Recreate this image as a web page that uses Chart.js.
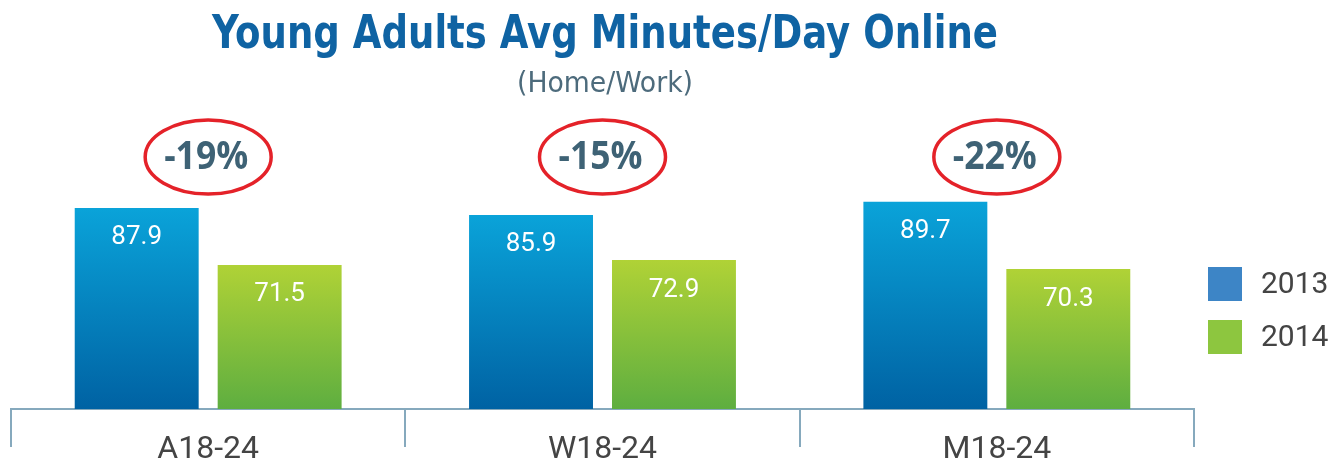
<!DOCTYPE html>
<html>
<head>
<meta charset="utf-8">
<script src="https://cdn.jsdelivr.net/npm/chart.js@4"></script>
<style>
  html, body { margin: 0; padding: 0; background: #fff; }
</style>
</head>
<body>
<canvas id="minutesChart" width="1336" height="461"></canvas>
<script>
// --- DATA ---
const categories = ["A18-24", "W18-24", "M18-24"];
const seriesNames = ["2013", "2014"];
const minutes2013 = [87.9, 85.9, 89.7];
const minutes2014 = [71.5, 72.9, 70.3];
const changeLabels = ["-19%", "-15%", "-22%"];

const chartTitle = "Young Adults Avg Minutes/Day Online";
const chartSubtitle = "(Home/Work)";

// --- STYLE ---
const legendColors = ["#3d85c6", "#8dc63f"];
const axisColor = "#86a9bd";
const narrowFont = "'Liberation Sans Narrow', 'DejaVu Sans Condensed', sans-serif";

function barGradient(top, bottom) {
    return function (context) {
        const chart = context.chart;
        const y = chart.scales.y;
        if (!chart.chartArea || !y || context.raw == null) return bottom;
        const yTop = y.getPixelForValue(context.raw);
        const yBottom = chart.chartArea.bottom;
        if (!isFinite(yTop) || !isFinite(yBottom)) return bottom;
        const g = chart.ctx.createLinearGradient(0, yTop, 0, yBottom);
        g.addColorStop(0, top);
        g.addColorStop(1, bottom);
        return g;
    };
}

// draw text squeezed/stretched to a target width
function fitText(ctx, text, x, y, targetWidth) {
    const w = ctx.measureText(text).width;
    const sx = targetWidth / w;
    ctx.save();
    ctx.translate(x, y);
    ctx.scale(sx, 1);
    ctx.fillText(text, 0, 0);
    ctx.restore();
}

// --- DECORATIONS (title, labels, ellipses, legend) ---
const decorations = {
    id: "decorations",
    afterDatasetsDraw(chart) {
        const ctx = chart.ctx;
        const bars0 = chart.getDatasetMeta(0).data;
        const bars1 = chart.getDatasetMeta(1).data;

        // values inside bars
        ctx.save();
        ctx.fillStyle = "#ffffff";
        ctx.font = "26px Roboto, 'Open Sans', sans-serif";
        ctx.textAlign = "center";
        ctx.textBaseline = "middle";
        [bars0, bars1].forEach((bars, di) => {
            const values = chart.data.datasets[di].data;
            bars.forEach((bar, i) => {
                ctx.fillText(values[i].toFixed(1), bar.x, bar.y + 30);
            });
        });
        ctx.restore();

        // change ellipses
        ctx.save();
        bars0.forEach((bar, i) => {
            const cx = (bar.x + bars1[i].x) / 2;
            const cy = 157;
            ctx.beginPath();
            ctx.ellipse(cx, cy, 63, 37, 0, 0, Math.PI * 2);
            ctx.strokeStyle = "#e42229";
            ctx.lineWidth = 3.5;
            ctx.stroke();

            ctx.fillStyle = "#3e6275";
            ctx.font = "bold 40px 'Open Sans', sans-serif";
            ctx.textAlign = "center";
            ctx.textBaseline = "middle";
            fitText(ctx, changeLabels[i], cx - 2, cy + 1, 84);
        });
        ctx.restore();
    },
    afterDraw(chart) {
        const ctx = chart.ctx;
        ctx.save();
        ctx.textAlign = "center";
        ctx.textBaseline = "alphabetic";

        ctx.fillStyle = "#0f63a3";
        ctx.font = "bold 46px " + narrowFont;
        fitText(ctx, chartTitle, 605, 48, 786);

        ctx.fillStyle = "#4d6b7c";
        ctx.font = "28px " + narrowFont;
        fitText(ctx, chartSubtitle, 605, 92, 176);

        // legend
        ctx.textAlign = "left";
        ctx.textBaseline = "middle";
        ctx.font = "30px Roboto, sans-serif";
        seriesNames.forEach((name, i) => {
            const y = 267 + i * 53;
            ctx.fillStyle = legendColors[i];
            ctx.fillRect(1208, y, 34, 34);
            ctx.fillStyle = "#444444";
            ctx.fillText(name, 1261, y + 18);
        });
        ctx.restore();
    }
};

// --- CHART ---
new Chart(document.getElementById("minutesChart"), {
    type: "bar",
    data: {
        labels: categories,
        datasets: [
            {
                label: seriesNames[0],
                data: minutes2013,
                backgroundColor: barGradient("#0aa3d9", "#0062a3"),
                categoryPercentage: 0.725,
                barPercentage: 0.867
            },
            {
                label: seriesNames[1],
                data: minutes2014,
                backgroundColor: barGradient("#b0d236", "#5eae40"),
                categoryPercentage: 0.725,
                barPercentage: 0.867
            }
        ]
    },
    options: {
        responsive: false,
        animation: false,
        layout: {
            padding: { left: 11, right: 142, top: 100, bottom: 0 }
        },
        plugins: {
            legend: { display: false },
            title: { display: false },
            tooltip: { enabled: false }
        },
        scales: {
            y: {
                display: false,
                min: 30,
                max: 119
            },
            x: {
                afterFit: scale => { scale.height = 52; },
                grid: {
                    offset: true,
                    drawOnChartArea: false,
                    drawTicks: true,
                    tickLength: 38,
                    color: axisColor,
                    lineWidth: 2
                },
                border: {
                    display: true,
                    color: axisColor,
                    width: 2
                },
                ticks: {
                    color: "#444444",
                    padding: -16,
                    font: { family: "Roboto, sans-serif", size: 32 }
                }
            }
        }
    },
    plugins: [decorations]
});
</script>
</body>
</html>
